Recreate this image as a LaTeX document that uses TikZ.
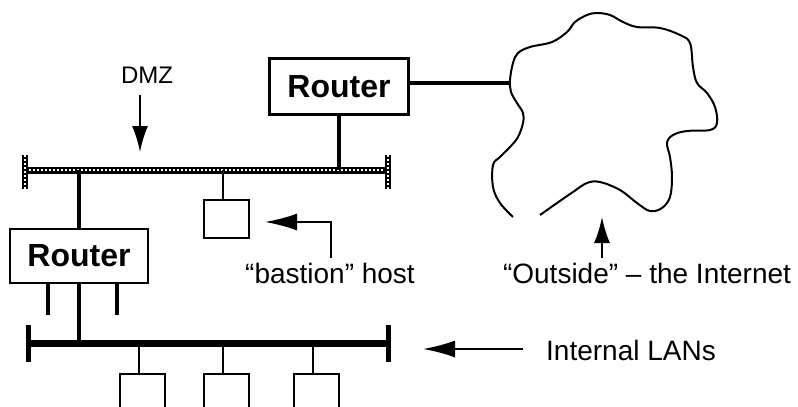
\documentclass[tikz,border=0pt]{standalone}
\usepackage{fontspec}
\setmainfont{Liberation Sans}
\usetikzlibrary{arrows.meta}
\begin{document}
\begin{tikzpicture}[x=1pt,y=-1pt,
  routerbox/.style={draw, line width=2.6pt, minimum width=139pt, minimum height=56pt, inner sep=0pt,
    font=\fontsize{32}{36}\selectfont\bfseries},
  hostbox/.style={draw, line width=2pt, minimum width=45pt, minimum height=38pt, inner sep=0pt},
  lbl/.style={inner sep=0pt, font=\fontsize{28}{30}\selectfont},
  wire/.style={line width=3.4pt},
  thinwire/.style={line width=2pt},
  lanbus/.style={line width=7pt},
  dmzbus/.style={line width=7pt},
  dmzholes/.style={white, line width=2.4pt, dash pattern=on 2pt off 2pt},
  pointer/.style={line width=2pt, -{Latex[length=32pt, width=17pt]}},
  vpointer/.style={line width=2pt, -{Latex[length=26pt, width=16pt]}},
  cloudline/.style={line width=2pt}
]
\useasboundingbox (0,0) rectangle (798,407);
\clip (0,0) rectangle (798,407);

% --- nodes
\node[routerbox] (r1) at (339,86.5) {Router};
\node[routerbox, minimum width=138pt, minimum height=54pt] (r2) at (79,256) {Router};
\node[hostbox] (bastion) at (226.5,219) {};
\node[hostbox, minimum height=60pt, anchor=north] (h1) at (142,373) {};
\node[hostbox, minimum height=60pt, anchor=north] (h2) at (226,373) {};
\node[hostbox, minimum height=60pt, anchor=north] (h3) at (316.5,373) {};

% --- DMZ bus
\coordinate (dmzL) at (25,170);
\coordinate (dmzR) at (388,170);
\coordinate (dmzLt) at (25,155);
\coordinate (dmzLb) at (25,189);
\coordinate (dmzRt) at (388,155);
\coordinate (dmzRb) at (388,189);
\draw[dmzbus] (dmzL) -- (dmzR);
\draw[dmzholes] (dmzL) -- (dmzR);
\draw[line width=5.5pt] (dmzLt) -- (dmzLb);
\draw[line width=5.5pt] (dmzRt) -- (dmzRb);
\draw[white, line width=2pt, dash pattern=on 2pt off 2pt] (dmzLt) -- (dmzLb);
\draw[white, line width=2pt, dash pattern=on 2pt off 2pt] (dmzRt) -- (dmzRb);

% --- LAN bus
\coordinate (lanL) at (28,343);
\coordinate (lanR) at (388,343);
\draw[lanbus] (lanL) -- (lanR);
\draw[line width=5pt] (28,325) -- (28,362);
\draw[line width=5pt] (388,325) -- (388,362);

% --- connections
\draw[wire] (r1.south) -- (r1.south |- dmzL);
\draw[wire] (r2.north) -- (r2.north |- dmzL);
\draw[wire] (r2.south) -- (r2.south |- lanL);
\coordinate (stubA) at (48,315);
\coordinate (stubB) at (117,315);
\draw[wire] (stubA |- r2.south) -- (stubA);
\draw[wire] (stubB |- r2.south) -- (stubB);
\draw[thinwire] (bastion.north -| 223,0) -- (223,170);
\draw[thinwire] (h1.north -| 139,0) -- (139,343);
\draw[thinwire] (h2.north -| 223,0) -- (223,343);
\draw[thinwire] (h3.north -| 313,0) -- (313,343);

% --- cloud
\coordinate (cloudL) at (510,83);
\draw[wire] (r1.east |- cloudL) -- (cloudL);
\draw[cloudline] plot[smooth, tension=0.6] coordinates {
 (513,217) (500,203) (493,187) (493,165) (500,157) (510,147) (518,137) (523,123) (523,113)
 (517,103) (511,92) (510,80) (513,63) (518,53) (530,47) (552,42) (567,32) (575,22) (587,15)
 (597,13) (610,15) (623,22) (637,27) (660,28) (680,35) (690,43) (693,67) (697,83) (707,93)
 (715,107) (717,123) (710,130) (687,131) (673,135) (667,143) (670,157) (672,177) (670,197)
 (662,208) (650,211) (637,203) (620,190) (600,182) (587,183) (573,192) (557,203) (540,215)};

% --- labels and pointers
\node[lbl, font=\fontsize{24}{28}\selectfont] (dmz) at (147,75) {DMZ};
\coordinate (dmzTip) at (140,152);
\draw[vpointer] (140,95) -- (dmzTip);

\node[lbl] (bastlbl) at (330,273) {“bastion” host};
\coordinate (bastTip) at (265,222);
\draw[pointer] (331,258) -- (331,222) -- (bastTip);

\node[lbl] (outlbl) at (647,273) {“Outside” – the Internet};
\coordinate (outTip) at (602,217);
\draw[vpointer] (602,258) -- (outTip);

\node[lbl] (lanlbl) at (631,350) {Internal LANs};
\coordinate (lanTip) at (423,349);
\draw[pointer] (523,349) -- (lanTip);
\end{tikzpicture}
\end{document}
